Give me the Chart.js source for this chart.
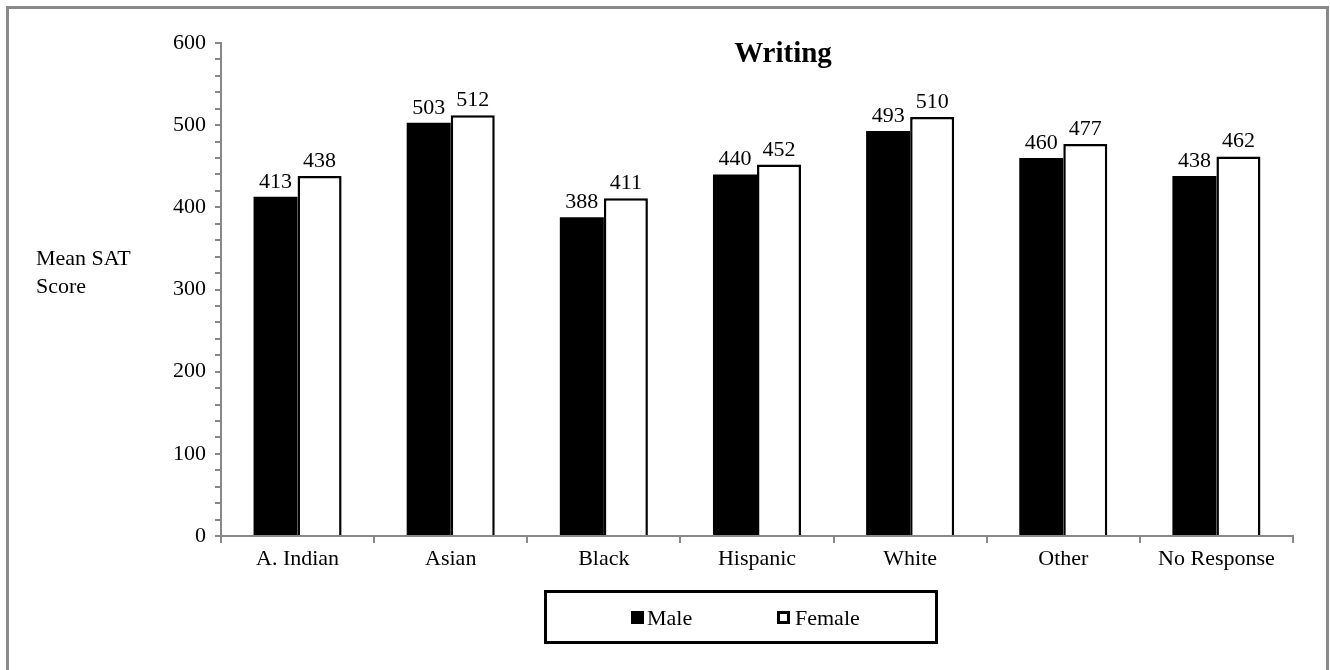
<!DOCTYPE html>
<html>
<head>
<meta charset="utf-8">
<script src="https://cdn.jsdelivr.net/npm/chart.js@4/dist/chart.umd.min.js"></script>
<style>
  html, body { margin: 0; padding: 0; background: #fff; }
  #wrap { width: 1330px; height: 670px; position: relative; }
</style>
</head>
<body>
<div id="wrap"><canvas id="satChart"></canvas></div>
<script>
// data
const categories = ["A. Indian", "Asian", "Black", "Hispanic", "White", "Other", "No Response"];
const maleScores = [413, 503, 388, 440, 493, 460, 438];
const femaleScores = [438, 512, 411, 452, 510, 477, 462];
const seriesNames = ["Male", "Female"];
const chartTitle = "Writing";
const yTitle = ["Mean SAT", "Score"];

const FONT = "'Liberation Serif', 'Times New Roman', serif";

// border, title, y title, value labels, legend box
const extras = {
  id: "extras",
  afterDraw(chart) {
    const ctx = chart.ctx;
    ctx.save();

    // outer frame
    ctx.strokeStyle = "#888";
    ctx.lineWidth = 3;
    ctx.strokeRect(7.5, 7.5, 1320, 700);

    // title
    ctx.fillStyle = "#000";
    ctx.font = "bold 29px " + FONT;
    ctx.textAlign = "center";
    ctx.textBaseline = "alphabetic";
    ctx.fillText(chartTitle, 783, 62);

    // y axis title
    ctx.font = "22px " + FONT;
    ctx.textAlign = "left";
    ctx.fillText(yTitle[0], 36, 265);
    ctx.fillText(yTitle[1], 36, 293);

    // value labels
    ctx.font = "22px " + FONT;
    ctx.textAlign = "center";
    chart.data.datasets.forEach((ds, i) => {
      chart.getDatasetMeta(i).data.forEach((bar, j) => {
        ctx.fillText(ds.data[j], bar.x, bar.y - 9);
      });
    });

    // legend
    ctx.strokeStyle = "#000";
    ctx.lineWidth = 3;
    ctx.strokeRect(545.5, 591.5, 391, 51);
    ctx.font = "22px " + FONT;
    ctx.textAlign = "left";
    ctx.fillStyle = "#000";
    ctx.fillRect(631, 611, 13, 13);
    ctx.fillText(seriesNames[0], 647, 625);
    ctx.strokeRect(778.5, 612.5, 10, 10);
    ctx.fillText(seriesNames[1], 795, 625);

    ctx.restore();
  }
};

new Chart(document.getElementById("satChart"), {
  type: "bar",
  data: {
    labels: categories,
    datasets: [
      {
        label: seriesNames[0],
        data: maleScores,
        backgroundColor: "#000",
        borderColor: "#000",
        borderWidth: 0
      },
      {
        label: seriesNames[1],
        data: femaleScores,
        backgroundColor: "#fff",
        borderColor: "#000",
        borderWidth: 2.5,
        borderSkipped: "bottom"
      }
    ]
  },
  options: {
    responsive: true,
    maintainAspectRatio: false,
    animation: false,
    devicePixelRatio: 1,
    layout: { padding: { left: 0, top: 43, right: 37, bottom: 0 } },
    datasets: { bar: { barPercentage: 1, categoryPercentage: 0.575 } },
    plugins: {
      legend: { display: false },
      title: { display: false },
      tooltip: { enabled: false }
    },
    scales: {
      x: {
        afterFit(scale) { scale.height = 134; },
        grid: {
          offset: true,
          drawOnChartArea: false,
          drawTicks: true,
          tickLength: 7,
          color: "#888",
          lineWidth: 2
        },
        border: { color: "#888", width: 2 },
        ticks: {
          color: "#000",
          padding: 3,
          font: { family: FONT, size: 22 }
        }
      },
      y: {
        min: 0,
        max: 600,
        afterFit(scale) { scale.width = 221; },
        grid: {
          drawOnChartArea: false,
          drawTicks: true,
          tickLength: 6,
          color: "#888",
          lineWidth: 2
        },
        border: { color: "#888", width: 2 },
        ticks: {
          stepSize: 20,
          autoSkip: false,
          color: "#000",
          padding: 9,
          font: { family: FONT, size: 22 },
          callback: v => (v % 100 === 0 ? v : "")
        }
      }
    }
  },
  plugins: [extras]
});
</script>
</body>
</html>
